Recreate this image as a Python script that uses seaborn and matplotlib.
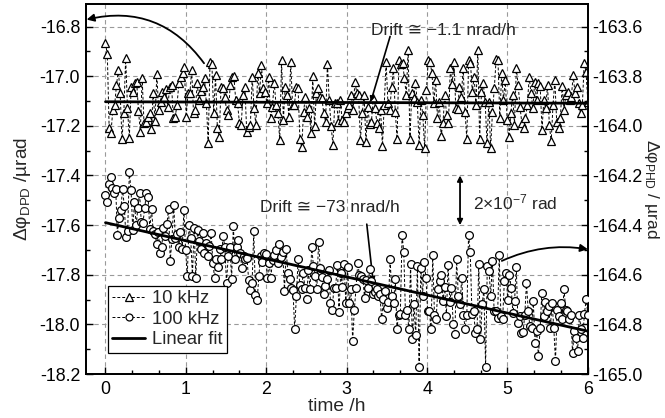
import numpy as np
import pandas as pd
import matplotlib
matplotlib.use("Agg")
import matplotlib.pyplot as plt
from matplotlib.lines import Line2D
from matplotlib.ticker import MultipleLocator, FormatStrFormatter
import seaborn as sns

# ---------------- data ----------------
# 10 kHz series, left axis (Δφ_DPD, µrad), uniformly sampled 0..6 h
dpd_10k = [
    -16.867, -16.912, -17.209, -17.227, -17.136, -17.116, -17.036, -16.976, -17.069, -17.253,
    -17.149, -16.925, -17.129, -17.249, -17.043, -17.063, -17.029, -17.023, -17.140, -17.223,
    -17.007, -17.189, -17.183, -17.163, -17.149, -17.213, -17.069, -17.179, -16.992, -17.136,
    -17.103, -17.063, -17.083, -17.053, -17.125, -17.043, -17.036, -17.169, -17.163, -17.116,
    -17.029, -17.003, -16.989, -16.963, -17.163, -17.067, -17.069, -16.976, -17.149, -17.136,
    -17.029, -17.096, -17.059, -17.043, -17.009, -17.109, -17.269, -16.943, -16.949, -17.147,
    -16.996, -17.209, -17.245, -17.043, -17.049, -17.083, -17.136, -17.156, -17.036, -17.003,
    -17.000, -17.096, -17.109, -17.187, -17.196, -17.076, -17.043, -17.223, -17.203, -17.196,
    -17.003, -17.129, -17.196, -16.989, -17.069, -16.956, -17.049, -17.063, -17.109, -17.003,
    -17.169, -17.123, -17.027, -17.116, -17.149, -17.259, -16.936, -17.176, -17.043, -17.076,
    -17.163, -16.943, -17.116, -17.116, -17.043, -17.047, -17.253, -17.287, -17.143, -17.083,
    -17.163, -17.129, -17.227, -17.000, -17.200, -17.069, -17.049, -17.083, -17.089, -17.149,
    -17.183, -16.949, -17.096, -17.200, -17.276, -17.109, -17.109, -17.183, -17.096, -17.176,
    -17.183, -17.149, -17.129, -17.116, -17.076, -17.136, -17.023, -17.067, -17.076, -17.256,
    -17.149, -17.076, -17.267, -17.123, -17.192, -17.183, -17.089, -17.129, -17.189, -17.209,
    -17.136, -17.280, -17.116, -16.943, -17.109, -17.136, -17.043, -16.969, -17.143, -17.253,
    -16.936, -16.949, -16.947, -17.009, -17.076, -16.896, -17.253, -17.067, -17.089, -17.027,
    -17.103, -17.276, -17.096, -17.156, -17.289, -17.056, -16.933, -16.943, -16.989, -17.109,
    -17.016, -17.169, -17.103, -17.240, -17.189, -17.076, -17.156, -17.189, -16.969, -17.032,
    -16.943, -17.129, -17.133, -17.043, -17.083, -16.969, -17.143, -17.253, -16.936, -16.947,
    -17.063, -17.003, -17.116, -16.896, -17.253, -17.063, -17.029, -17.103, -17.269, -17.103,
    -17.289, -17.143, -17.049, -16.929, -16.936, -17.169, -16.989, -17.096, -17.016, -17.176,
    -17.243, -17.149, -17.076, -17.196, -16.969, -17.036, -17.123, -17.189, -17.209, -17.169,
    -17.116, -17.003, -17.069, -17.129, -17.023, -17.096, -17.029, -17.040, -17.216, -17.096,
    -17.129, -17.036, -17.196, -17.263, -17.116, -17.016, -17.183, -17.209, -17.169, -17.040,
    -17.136, -17.076, -17.063, -17.096, -17.083, -16.996, -17.069, -17.043, -17.109, -17.149,
    -17.116, -16.947, -16.983, -17.103,
]

# 100 kHz series, right axis (Δφ_PHD, µrad), uniformly sampled 0..6 h
phd_100k = [
    -164.277, -164.307, -164.236, -164.205, -164.250, -164.272, -164.254, -164.438, -164.370, -164.340,
    -164.254, -164.321, -164.447, -164.424, -164.187, -164.259, -164.420, -164.307, -164.401, -164.330,
    -164.270, -164.388, -164.391, -164.330, -164.272, -164.286, -164.417, -164.334, -164.424, -164.434,
    -164.474, -164.428, -164.511, -164.487, -164.411, -164.444, -164.397, -164.334, -164.545, -164.455,
    -164.317, -164.451, -164.434, -164.487, -164.428, -164.498, -164.340, -164.501, -164.603, -164.401,
    -164.451, -164.605, -164.411, -164.612, -164.420, -164.464, -164.495, -164.431, -164.511, -164.471,
    -164.525, -164.485, -164.431, -164.552, -164.612, -164.536, -164.568, -164.495, -164.536, -164.442,
    -164.487, -164.635, -164.525, -164.487, -164.616, -164.404, -164.538, -164.487, -164.458, -164.511,
    -164.572, -164.525, -164.536, -164.532, -164.621, -164.662, -164.635, -164.424, -164.683, -164.702,
    -164.603, -164.525, -164.549, -164.511, -164.518, -164.612, -164.554, -164.612, -164.541, -164.522,
    -164.501, -164.554, -164.474, -164.528, -164.509, -164.666, -164.498, -164.592, -164.616, -164.652,
    -164.662, -164.820, -164.686, -164.538, -164.643, -164.656, -164.592, -164.652, -164.697, -164.581,
    -164.656, -164.487, -164.565, -164.605, -164.656, -164.468, -164.572, -164.608, -164.679, -164.646,
    -164.616, -164.581, -164.713, -164.740, -164.652, -164.652, -164.562, -164.750, -164.592, -164.648,
    -164.558, -164.713,
    -164.568, -164.713, -164.656, -164.867, -164.740, -164.652, -164.554, -164.599, -164.605, -164.616,
    -164.693, -164.619, -164.652, -164.576, -164.626, -164.679, -164.670, -164.659, -164.686, -164.679,
    -164.780, -164.699, -164.666, -164.733, -164.710, -164.536, -164.686, -164.715, -164.616, -164.817,
    -164.760, -164.756, -164.438, -164.509, -164.760, -164.740, -164.820, -164.558, -164.860, -164.719,
    -164.844, -164.565, -164.970, -164.572, -164.686, -164.549, -164.612, -164.746, -164.746, -164.820,
    -164.522, -164.760, -164.777, -164.659, -164.626, -164.599, -164.706, -164.648, -164.764, -164.562,
    -164.710, -164.652, -164.800, -164.840, -164.536, -164.686, -164.719, -164.612, -164.760, -164.817,
    -164.760, -164.438, -164.509, -164.756, -164.746, -164.834, -164.820, -164.558, -164.860, -164.719,
    -164.659, -164.970, -164.565, -164.585, -164.686, -164.545, -164.746, -164.746, -164.773, -164.522,
    -164.766, -164.777, -164.626, -164.592, -164.702, -164.599, -164.652, -164.753, -164.706, -164.568,
    -164.796, -164.766, -164.834, -164.831, -164.760, -164.632, -164.746, -164.807, -164.813, -164.706,
    -164.874, -164.827, -164.928, -164.813, -164.672, -164.766, -164.710, -164.746, -164.726, -164.813,
    -164.713, -164.813, -164.948, -164.740, -164.766, -164.713, -164.777, -164.656, -164.740, -164.746,
    -164.780, -164.760, -164.914, -164.827, -164.854, -164.907, -164.760, -164.820, -164.854, -164.756,
    -164.699, -164.760,
]

# linear fits (end points at t = 0 h and t = 6 h)
fit_t = [0.0, 6.0]
fit_10k = [-17.103, -17.109]       # left axis
fit_100k = [-164.39, -164.827]     # right axis

x_ticks = [0, 1, 2, 3, 4, 5, 6]
series_labels = ["10 kHz", "100 kHz", "Linear fit"]

t_10k = np.linspace(0, 6, len(dpd_10k))
t_100k = np.linspace(0, 6, len(phd_100k))
df10 = pd.DataFrame({"t": t_10k, "v": dpd_10k})
df100 = pd.DataFrame({"t": t_100k, "v": phd_100k})

# ---------------- style ----------------
sns.set_style("white")
plt.rcParams["font.family"] = ["Liberation Sans", "DejaVu Sans"]
plt.rcParams["mathtext.fontset"] = "custom"
plt.rcParams["mathtext.rm"] = "Liberation Sans"
plt.rcParams["mathtext.it"] = "Liberation Sans:italic"
plt.rcParams["mathtext.bf"] = "Liberation Sans:bold"
plt.rcParams["axes.unicode_minus"] = False

FS_TICK = 12.8
FS_LAB = 13.8
FS_LEG = 13.2
FS_ANN = 12.5

fig = plt.figure(figsize=(6.65, 4.18), dpi=100)
ax1 = fig.add_axes([0.129, 0.105, 0.755, 0.885])
ax2 = ax1.twinx()

dash = (0, (3, 2))
sns.lineplot(data=df10, x="t", y="v", ax=ax1, estimator=None, sort=False,
             color="black", lw=0.7, linestyle=dash, marker="^", markersize=6.4,
             markerfacecolor="white", markeredgecolor="black", markeredgewidth=0.9,
             zorder=3)
sns.lineplot(x=fit_t, y=fit_10k, ax=ax1, color="black", lw=2.0, zorder=4,
             estimator=None)

sns.lineplot(data=df100, x="t", y="v", ax=ax2, estimator=None, sort=False,
             color="black", lw=0.7, linestyle=dash, marker="o", markersize=5.6,
             markerfacecolor="white", markeredgecolor="black", markeredgewidth=0.9,
             zorder=3)
sns.lineplot(x=fit_t, y=fit_100k, ax=ax2, color="black", lw=2.0, zorder=4,
             estimator=None)

# ---------------- axes ----------------
ax1.set_xlim(-0.245, 6.0)
ax1.set_ylim(-18.2, -16.71)
ax2.set_ylim(-165.0, -163.51)

ax1.set_xticks(x_ticks)
ax1.xaxis.set_minor_locator(MultipleLocator(1 / 3))
ax1.yaxis.set_major_locator(MultipleLocator(0.2))
ax1.yaxis.set_minor_locator(MultipleLocator(0.1))
ax1.yaxis.set_major_formatter(FormatStrFormatter("%.1f"))
ax2.yaxis.set_major_locator(MultipleLocator(0.2))
ax2.yaxis.set_minor_locator(MultipleLocator(0.1))
ax2.yaxis.set_major_formatter(FormatStrFormatter("%.1f"))

for ax in (ax1, ax2):
    for s in ax.spines.values():
        s.set_linewidth(1.3)
        s.set_color("black")
    ax.tick_params(which="both", direction="in", colors="black",
                   labelsize=FS_TICK, width=1.0)
    ax.tick_params(which="major", length=5)
    ax.tick_params(which="minor", length=3)

ax1.tick_params(axis="y", which="both", left=True, right=False, pad=4)
ax1.tick_params(axis="x", which="both", bottom=True, top=False, pad=5)
ax2.tick_params(axis="y", which="both", right=True, left=False, pad=3)

ax1.grid(True, which="major", linestyle=(0, (4, 3)), color="#9a9a9a", lw=0.8)
ax1.set_axisbelow(True)
ax2.grid(False)

ax1.set_xlabel("time /h", fontsize=FS_LAB, labelpad=0)
ax1.set_ylabel(r"Δφ$_{\mathrm{DPD}}$ /µrad", fontsize=FS_LAB, labelpad=5)
ax2.set_ylabel(r"Δφ$_{\mathrm{PHD}}$ / µrad", fontsize=12.5, rotation=270,
               va="bottom", labelpad=0)

# ---------------- annotations ----------------
ax1.annotate("", xy=(-0.235, -16.772), xytext=(1.226, -16.948),
             arrowprops=dict(arrowstyle="-|>", color="black", lw=1.3,
                             mutation_scale=11, shrinkA=0, shrinkB=0,
                             connectionstyle="arc3,rad=0.33"), zorder=6)
ax1.annotate("", xy=(6.0, -17.697), xytext=(4.93, -17.744),
             arrowprops=dict(arrowstyle="-|>", color="black", lw=1.3,
                             mutation_scale=11, shrinkA=0, shrinkB=0,
                             connectionstyle="arc3,rad=-0.15"), zorder=6)

ax1.text(4.2, -16.816, "Drift ≅ −1.1 nrad/h", fontsize=FS_ANN, ha="center",
         va="center", zorder=6)
ax1.annotate("", xy=(3.30, -17.103), xytext=(3.54, -16.84),
             arrowprops=dict(arrowstyle="-|>", color="black", lw=1.2,
                             mutation_scale=7, shrinkA=0, shrinkB=0), zorder=6)

ax1.text(2.79, -17.529, "Drift ≅ −73 nrad/h", fontsize=FS_ANN, ha="center",
         va="center", zorder=6)
ax1.annotate("", xy=(3.33, -17.83), xytext=(3.25, -17.596),
             arrowprops=dict(arrowstyle="-|>", color="black", lw=1.2,
                             mutation_scale=7, shrinkA=0, shrinkB=0), zorder=6)

ax1.annotate("", xy=(4.41, -17.6), xytext=(4.41, -17.4),
             arrowprops=dict(arrowstyle="<|-|>", color="black", lw=1.3,
                             mutation_scale=8, shrinkA=0, shrinkB=0), zorder=6)
ax1.text(5.1, -17.507, r"2×10$^{-7}$ rad", fontsize=FS_ANN, ha="center",
         va="center", zorder=6)

# ---------------- legend ----------------
handles = [
    Line2D([], [], color="black", lw=0.7, linestyle=dash, marker="^", markersize=5.5,
           markerfacecolor="white", markeredgecolor="black", markeredgewidth=0.9),
    Line2D([], [], color="black", lw=0.7, linestyle=dash, marker="o", markersize=5,
           markerfacecolor="white", markeredgecolor="black", markeredgewidth=0.9),
    Line2D([], [], color="black", lw=2.0),
]
leg = ax2.legend(handles, series_labels, loc="lower left",
                 bbox_to_anchor=(0.044, 0.058), fontsize=FS_LEG, frameon=True,
                 fancybox=False, edgecolor="black", framealpha=1,
                 handlelength=1.8, handletextpad=0.35, labelspacing=0.18,
                 borderpad=0.25, borderaxespad=0)
leg.get_frame().set_linewidth(0.9)
leg.set_zorder(10)

fig.savefig("out.png", dpi=100)
